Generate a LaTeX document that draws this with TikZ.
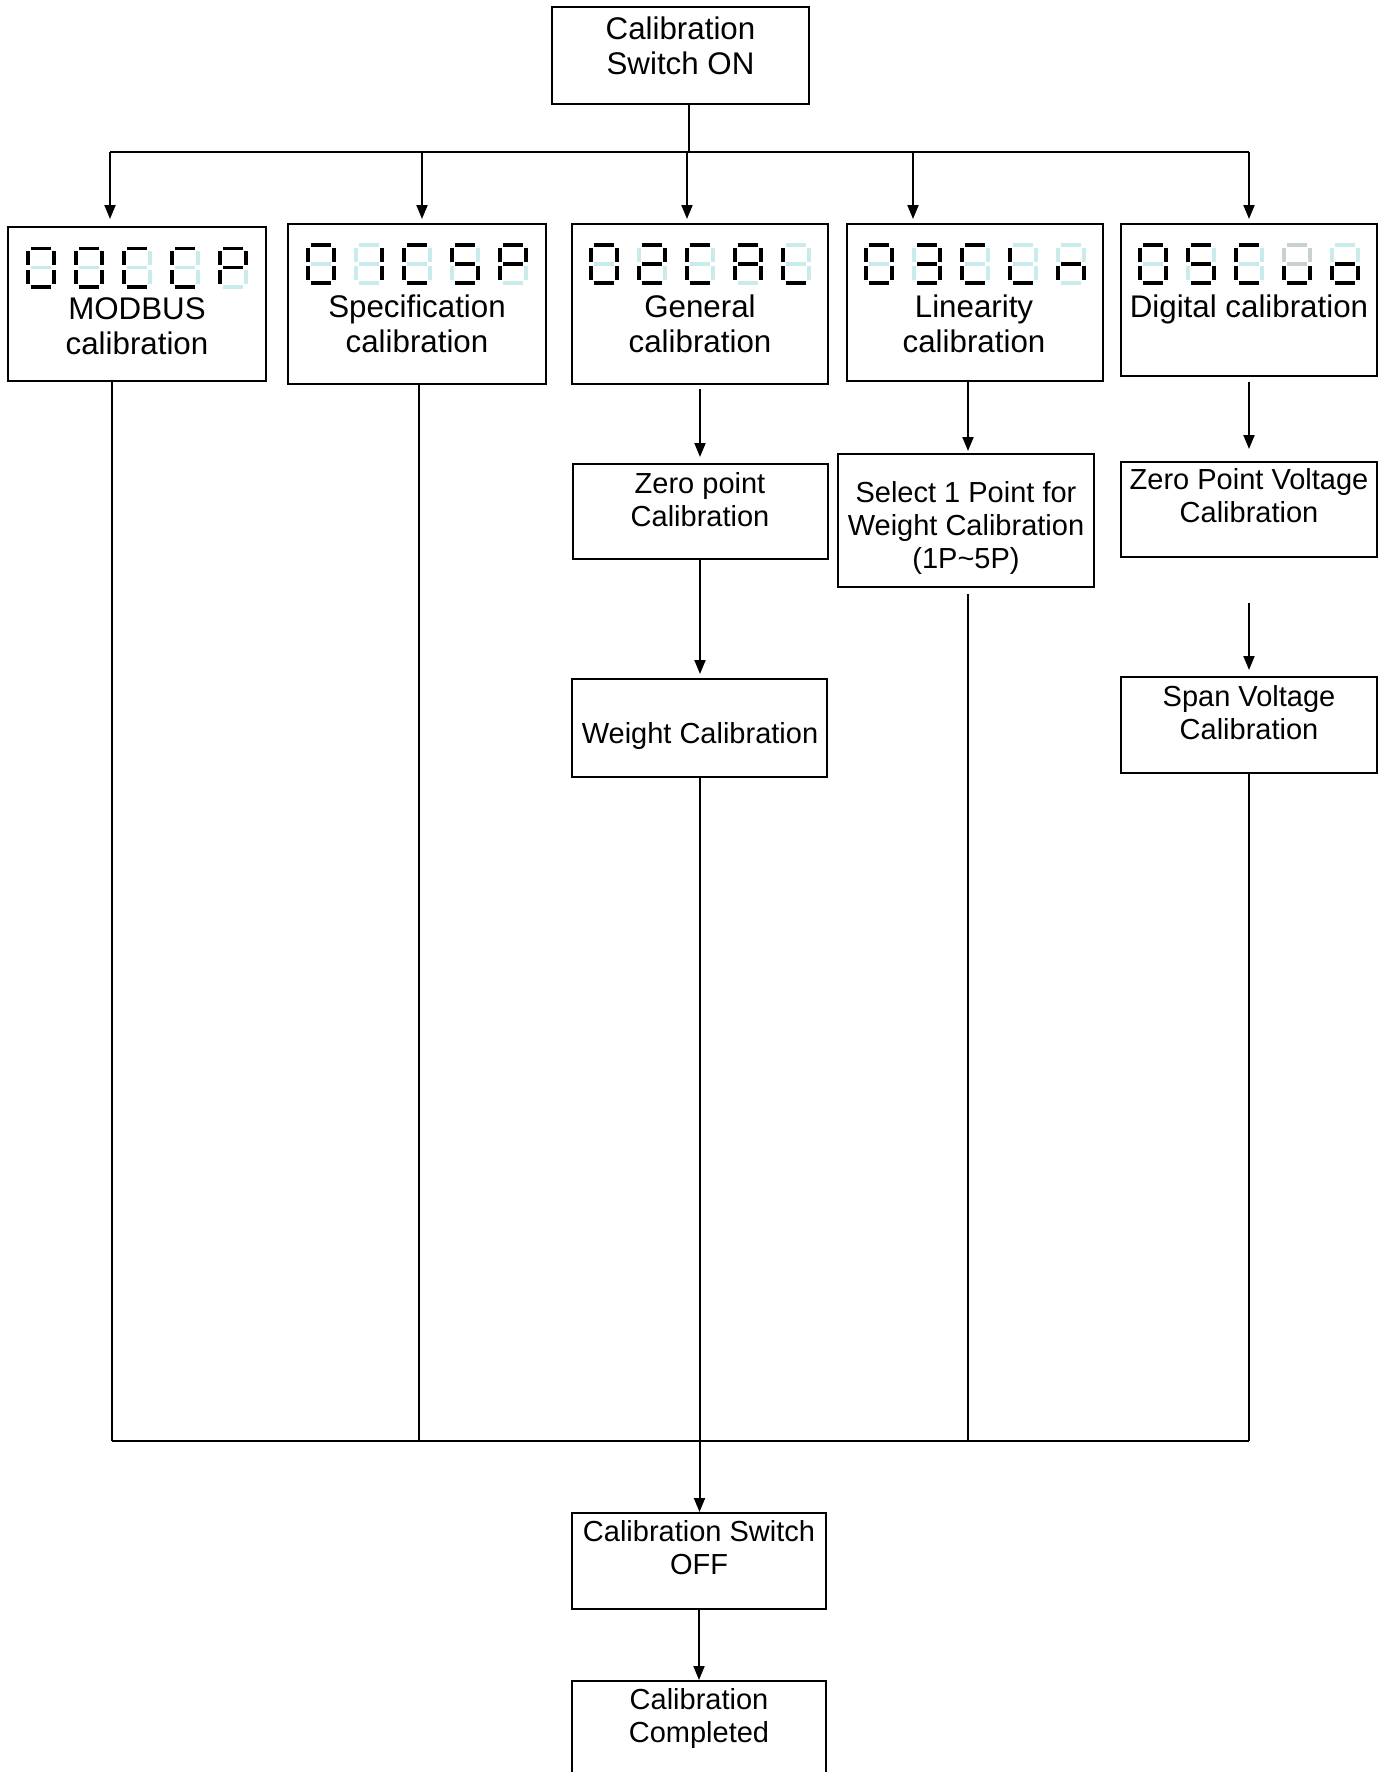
\documentclass[tikz,border=0pt]{standalone}
\usepackage{fontspec}
\setmainfont{Liberation Sans}
\usetikzlibrary{arrows.meta}

\definecolor{sgK}{RGB}{0,0,0}
\definecolor{sgC}{RGB}{200,236,236}
\definecolor{sgG}{RGB}{200,208,208}

\newcommand\bigtxt{\fontsize{31.3pt}{35pt}\selectfont}
\newcommand\smalltxt{\fontsize{29pt}{33pt}\selectfont}
\newcommand\fl{\rule{0pt}{24pt}}

% seven-segment glyphs: colours of segments a b c d e f g
\def\gZero{sgK,sgK,sgK,sgK,sgK,sgK,sgC}
\def\gOne{sgC,sgK,sgK,sgC,sgC,sgC,sgC}
\def\gTwo{sgK,sgK,sgC,sgK,sgK,sgC,sgK}
\def\gThree{sgK,sgK,sgK,sgK,sgC,sgC,sgK}
\def\gFive{sgK,sgC,sgK,sgK,sgC,sgK,sgK}
\def\gC{sgK,sgC,sgC,sgK,sgK,sgK,sgC}
\def\gP{sgK,sgK,sgC,sgC,sgK,sgK,sgK}
\def\gA{sgK,sgK,sgK,sgC,sgK,sgK,sgK}
\def\gL{sgC,sgC,sgC,sgK,sgK,sgK,sgC}
\def\gn{sgC,sgC,sgK,sgC,sgK,sgC,sgK}
\def\gu{sgG,sgG,sgK,sgK,sgK,sgG,sgG}
\def\go{sgC,sgC,sgK,sgK,sgK,sgC,sgK}

% one digit with its top-left corner at (#1,#2)
\newcommand\segdigit[3]{%
  \foreach \sc [count=\si] in #3 {%
    \ifcase\si\or
      \fill[\sc] ({#1+5},{#2}) rectangle ++(20,3.8);\or
      \fill[\sc] ({#1+26.2},{#2+4.6}) rectangle ++(3.8,14);\or
      \fill[\sc] ({#1+26.2},{#2+23.4}) rectangle ++(3.8,14);\or
      \fill[\sc] ({#1+5},{#2+38.2}) rectangle ++(20,3.8);\or
      \fill[\sc] ({#1},{#2+23.4}) rectangle ++(3.8,14);\or
      \fill[\sc] ({#1},{#2+4.6}) rectangle ++(3.8,14);\or
      \fill[\sc] ({#1+5},{#2+19.1}) rectangle ++(20,3.8);%
    \fi}}

% a row of five digits
\newcommand\segrow[7]{%
  \segdigit{#1}{#2}{#3}%
  \segdigit{#1+48}{#2}{#4}%
  \segdigit{#1+96}{#2}{#5}%
  \segdigit{#1+144}{#2}{#6}%
  \segdigit{#1+192}{#2}{#7}}

\begin{document}
\begin{tikzpicture}[x=1pt,y=-1pt,line width=2pt,
  box/.style={draw, line width=2pt, inner sep=0pt},
  txt/.style={anchor=north, inner sep=0pt, align=center},
  arr/.style={-{Triangle[length=14pt,width=11pt]}}]
\path[use as bounding box, clip] (0,0) rectangle (1387,1772);
\fill[white] (0,0) rectangle (1387,1772);

% boxes
\node[box, minimum width=257pt, minimum height=97pt] (on) at (680.5,55.5) {};
\node[box, minimum width=258pt, minimum height=154pt] (modbus) at (137,304) {};
\node[box, minimum width=258pt, minimum height=160pt] (spec) at (417,304) {};
\node[box, minimum width=256pt, minimum height=160pt] (gen) at (700,304) {};
\node[box, minimum width=256pt, minimum height=157pt] (lin) at (975,302.5) {};
\node[box, minimum width=256pt, minimum height=152pt] (dig) at (1249,300) {};
\node[box, minimum width=255pt, minimum height=95pt] (zero) at (700.5,511.5) {};
\node[box, minimum width=256pt, minimum height=133pt] (sel) at (966,520.5) {};
\node[box, minimum width=256pt, minimum height=95pt] (zpv) at (1249,509.5) {};
\node[box, minimum width=255pt, minimum height=98pt] (wt) at (699.5,728) {};
\node[box, minimum width=256pt, minimum height=96pt] (span) at (1249,725) {};
\node[box, minimum width=254pt, minimum height=96pt] (off) at (699,1561) {};
\node[box, minimum width=254pt, minimum height=100pt] (done) at (699,1731) {};

% texts
\node[txt, font=\bigtxt] (on-t) at (680.5,14) {\fl Calibration\\Switch ON};
\node[txt, font=\bigtxt] (modbus-t) at (137,294) {\fl MODBUS\\calibration};
\node[txt, font=\bigtxt] (spec-t) at (417,292) {\fl Specification\\calibration};
\node[txt, font=\bigtxt] (gen-t) at (700,292) {\fl General\\calibration};
\node[txt, font=\bigtxt] (lin-t) at (974,292) {\fl Linearity\\calibration};
\node[txt, font=\bigtxt] (dig-t) at (1249,292) {\fl Digital calibration};
\node[txt, font=\smalltxt] (zero-t) at (700,468) {\fl Zero point\\Calibration};
\node[txt, font=\smalltxt] (sel-t) at (966,477) {\fl Select 1 Point for\\Weight Calibration\\(1P\textasciitilde 5P)};
\node[txt, font=\smalltxt] (zpv-t) at (1249,464) {\fl Zero Point Voltage\\Calibration};
\node[txt, font=\smalltxt] (wt-t) at (700,718) {\fl Weight Calibration};
\node[txt, font=\smalltxt] (span-t) at (1249,681) {\fl Span Voltage\\Calibration};
\node[txt, font=\smalltxt] (off-t) at (699,1516) {\fl Calibration Switch\\OFF};
\node[txt, font=\smalltxt] (done-t) at (699,1684) {\fl Calibration\\Completed};

% seven-segment displays
\segrow{26}{246.5}{\gZero}{\gZero}{\gC}{\gC}{\gP}
\segrow{306}{243}{\gZero}{\gOne}{\gC}{\gFive}{\gP}
\segrow{589}{243}{\gZero}{\gTwo}{\gC}{\gA}{\gL}
\segrow{864}{243}{\gZero}{\gThree}{\gC}{\gL}{\gn}
\segrow{1138}{243}{\gZero}{\gFive}{\gC}{\gu}{\go}

% distribution bar
\coordinate (hub) at (689,152);
\coordinate (tL) at (110,152);
\coordinate (tSpec) at (422,152);
\coordinate (tGen) at (687,152);
\coordinate (tLin) at (913,152);
\coordinate (tR) at (1249,152);
\draw (on.south -| hub) -- (hub);
\draw (tL) -- (tR);
\draw[arr, shorten >=7pt] (tL) -- (tL |- modbus.north);
\draw[arr, shorten >=4pt] (tSpec) -- (tSpec |- spec.north);
\draw[arr, shorten >=4pt] (tGen) -- (tGen |- gen.north);
\draw[arr, shorten >=4pt] (tLin) -- (tLin |- lin.north);
\draw[arr, shorten >=4pt] (tR) -- (dig.north);

% branch steps
\coordinate (jL) at (112,1441);
\coordinate (jSpec) at (419,1441);
\coordinate (jSel) at (968,1441);
\coordinate (jR) at (1249,1441);
\draw[arr, shorten <=4pt, shorten >=6pt] (gen.south) -- (gen.south |- zero.north);
\draw[arr, shorten >=4pt] (zero.south -| gen.south) -- (gen.south |- wt.north);
\draw[arr, shorten >=2pt] (lin.south -| jSel) -- (sel.north -| jSel);
\draw[arr, shorten <=5pt, shorten >=12pt] (dig.south) -- (zpv.north);
\draw[arr, shorten <=45pt, shorten >=6pt] (zpv.south) -- (span.north);

% collecting bar
\draw (modbus.south -| jL) -- (jL);
\draw (spec.south -| jSpec) -- (jSpec);
\draw[shorten <=6pt] (sel.south -| jSel) -- (jSel);
\draw (span.south) -- (jR);
\draw (jL) -- (jR);
\draw[arr] (wt.south) -- (wt.south |- off.north);
\draw[arr] (off.south) -- (done.north);
\end{tikzpicture}
\end{document}
